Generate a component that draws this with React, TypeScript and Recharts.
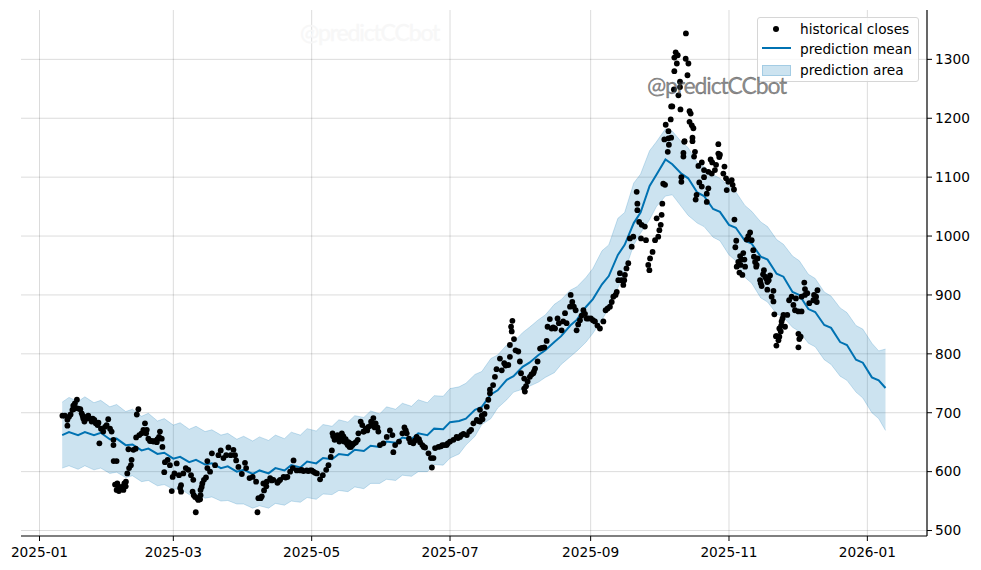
import { Area, CartesianGrid, ComposedChart, Line, Scatter, XAxis, YAxis } from "recharts";

const X_TICKS = [0, 59, 120, 181, 243, 304, 365];
const X_LABELS = ["2025-01", "2025-03", "2025-05", "2025-07", "2025-09", "2025-11", "2026-01"];
const Y_TICKS = [500, 600, 700, 800, 900, 1000, 1100, 1200, 1300];

// days since 2025-01-01
const FORECAST_DAYS = [
  10, 13, 17, 20, 24, 27, 31, 34, 38, 41,
  45, 48, 52, 55, 59, 62, 66, 69, 73, 76,
  80, 83, 87, 90, 94, 97, 101, 104, 108, 111,
  115, 118, 122, 125, 129, 132, 136, 139, 143, 146,
  150, 153, 157, 160, 164, 167, 171, 174, 178, 181,
  185, 188, 192, 195, 199, 202, 206, 209, 213, 216,
  220, 223, 227, 230, 234, 237, 241, 244, 248, 251,
  255, 258, 262, 265, 269, 272, 276, 279, 283, 286,
  290, 293, 297, 300, 304, 307, 311, 314, 318, 321,
  325, 328, 332, 335, 339, 342, 346, 349, 353, 356,
  360, 363, 367, 370, 373,
];
const MEAN = [
  662, 667, 662, 667, 662, 666, 655, 656, 645, 646,
  636, 639, 630, 632, 622, 625, 616, 620, 612, 614,
  606, 609, 600, 603, 596, 602, 597, 606, 602, 611,
  607, 617, 614, 623, 621, 630, 628, 637, 635, 644,
  642, 651, 649, 658, 655, 665, 662, 673, 672, 684,
  686, 690, 705, 710, 731, 738, 756, 762, 778, 785,
  798, 806, 820, 830, 848, 858, 880, 893, 918, 932,
  968, 985, 1022, 1040, 1085, 1104, 1130, 1122, 1106, 1098,
  1074, 1068, 1046, 1041, 1019, 1014, 992, 987, 965, 960,
  936, 931, 905, 900, 876, 871, 849, 844, 820, 815,
  790, 785, 760, 755, 742,
];
const UPPER = [
  718, 726, 719, 727, 717, 721, 710, 714, 702, 706,
  694, 699, 686, 690, 679, 683, 672, 677, 668, 671,
  662, 665, 655, 660, 652, 659, 653, 662, 656, 667,
  662, 673, 669, 680, 677, 688, 684, 695, 692, 703,
  698, 710, 706, 716, 711, 722, 717, 729, 728, 741,
  744, 750, 765, 770, 792, 798, 815, 820, 836, 845,
  858, 866, 884, 892, 908, 914, 930, 945, 975, 985,
  1030, 1040, 1090, 1105, 1145, 1160, 1182, 1178, 1160, 1150,
  1125, 1118, 1104, 1098, 1084, 1075, 1052, 1042, 1024, 1016,
  994, 986, 966, 958, 935, 928, 905, 898, 878, 870,
  848, 842, 818, 805, 808,
];
const LOWER = [
  606, 610, 604, 610, 603, 606, 597, 599, 590, 593,
  583, 585, 576, 578, 570, 571, 561, 563, 555, 557,
  550, 551, 545, 545, 538, 542, 538, 546, 543, 550,
  548, 556, 553, 562, 561, 568, 566, 574, 571, 580,
  580, 587, 585, 594, 592, 600, 600, 612, 611, 623,
  630, 645, 660, 680, 690, 708, 722, 735, 740, 745,
  752, 760, 768, 782, 795, 805, 820, 835, 858, 878,
  912, 940, 985, 1005, 1028, 1050, 1068, 1070, 1050, 1035,
  1022, 1016, 998, 992, 968, 958, 930, 920, 895, 888,
  868, 862, 845, 838, 818, 812, 790, 782, 762, 755,
  735, 725, 700, 690, 670,
];

// [day, close]
const CLOSES_JAN = [
  [10.1, 695], [11.2, 695], [12.3, 688], [12.3, 678], [13, 693], [13.7, 697], [14.5, 705], [14.9, 712],
  [15.6, 716], [16.5, 722], [17.1, 707], [18, 706], [18.6, 699], [19.3, 690], [19.8, 685], [20.8, 693],
  [21.5, 695], [22.3, 690], [23, 685], [24.2, 688], [24.8, 682], [25.6, 679], [26.4, 648], [27.1, 673],
  [28.1, 668], [28.9, 676], [29.6, 679], [30.3, 689], [19, 695], [21, 690], [23.5, 690], [26, 683],
  [16, 708], [15, 706],
];
const CLOSES_FEB = [
  [31.1, 673], [31.8, 668], [32.6, 654], [32.6, 645], [32.7, 618], [34, 618], [33.3, 578], [34.3, 580],
  [34, 569], [35, 567], [36, 574], [37, 569], [37.4, 580], [38.1, 583], [38.7, 597], [39.5, 606],
  [40.3, 611], [40.6, 620], [39.2, 638], [41.4, 637], [42.4, 639], [42.6, 658], [42.9, 697], [43.6, 706],
  [44, 662], [45, 665], [45.8, 671], [46.5, 682], [47.3, 671], [48, 656], [48.7, 652], [50.2, 651],
  [51.7, 650], [52.7, 659], [53.1, 668], [53.9, 656], [54.2, 642], [55.3, 616], [55, 599], [56.5, 620],
  [57.5, 611], [58.7, 591], [34.8, 572], [35.6, 570], [36.6, 572], [38, 575], [47, 665], [49.5, 652],
  [51, 652], [52, 655],
];
const CLOSES_MAR = [
  [59.5, 597], [60.5, 614], [61.5, 594], [62.4, 577], [63.4, 597], [64.5, 606], [65.6, 603], [66.8, 594],
  [67.8, 586], [62.4, 566], [58.3, 567], [67.5, 566], [68.6, 557], [70, 552], [68.9, 531], [71, 569],
  [71.8, 580], [70.8, 553], [71.5, 574], [72.5, 586], [73.4, 590], [74, 606], [74, 618], [75.2, 600],
  [76, 631], [77.4, 611], [78.9, 628], [79.9, 636], [81.1, 623], [82.3, 628], [83.3, 641], [84.3, 628],
  [85.5, 637], [86.2, 628], [86.7, 619], [87.7, 608], [89.2, 596], [62, 572], [68, 560], [69.5, 555],
  [71, 560],
];
const CLOSES_APR = [
  [90.6, 615], [91.1, 606], [92.6, 589], [94, 591], [95.5, 583], [96.1, 531], [96.5, 555], [98, 558],
  [99, 568], [98.7, 580], [100.2, 583], [101.7, 589], [103.1, 586], [104.9, 581], [106.1, 586], [107.6, 591],
  [109.3, 591], [110.5, 600], [111.7, 606], [112, 619], [113.4, 602], [114.9, 602], [116.4, 601], [117.8, 602],
  [119.3, 602], [97.5, 555], [100, 575], [102.4, 585], [105.5, 584], [108.5, 590], [115.6, 603], [118.5, 601],
];
const CLOSES_MAY = [
  [120.8, 600], [122.3, 597], [123.7, 587], [124.9, 594], [126.4, 603], [127.4, 611], [128.4, 625], [128.9, 636],
  [129.2, 665], [130.1, 654], [131.4, 662], [133.3, 665], [132.2, 651], [134.3, 651], [135.5, 648], [136.7, 642],
  [134.7, 654], [135.9, 645], [137.3, 642], [138.8, 648], [140.3, 654], [140.6, 665], [141.6, 685], [142.3, 679],
  [142.8, 668], [143.8, 673], [145, 676], [146.2, 685], [147.2, 691], [148.2, 682], [149.4, 668], [120, 602],
  [121.5, 598], [129.5, 660], [130.6, 660], [131.9, 655], [133, 658], [134, 660], [135, 655], [136.2, 650],
  [137, 648], [138, 645], [139.5, 650], [143, 668], [144.5, 670], [146, 678], [147.8, 675], [149, 675],
];
const CLOSES_JUN = [
  [150.1, 645], [151.6, 648], [153.1, 659], [154.5, 670], [155.6, 662], [156, 633], [156.8, 645], [158.5, 651],
  [160, 665], [160.9, 675], [161.9, 665], [162.9, 656], [164.8, 648], [166.3, 659], [167.3, 655], [168.8, 645],
  [170, 641], [171.5, 631], [172.6, 623], [173.7, 623], [173, 607], [174.4, 640], [175.9, 642], [177.6, 645],
  [179.5, 645], [161.5, 670], [163.5, 650], [165.5, 653], [167.8, 650], [169.4, 642], [177, 643], [178.5, 645],
  [180, 648],
];
const CLOSES_JUL = [
  [181, 651], [182.5, 654], [183.9, 659], [185.4, 659], [186.9, 664], [188.4, 662], [190.3, 671], [191.3, 682],
  [192.8, 688], [194.2, 685], [195.3, 689], [194.2, 705], [196.2, 698], [197.2, 710], [197.9, 722], [198.6, 733],
  [198.6, 739], [200, 747], [200.8, 761], [201.5, 774], [203, 792], [203.8, 772], [204.9, 784], [206.7, 781],
  [207.4, 795], [207.4, 815], [209.2, 825], [208.2, 838], [207.9, 846], [208.5, 856], [209.9, 806], [211.1, 804],
  [184.5, 657], [186, 662], [189.5, 668], [193.5, 686], [195, 695], [205.5, 780],
];
const CLOSES_AUG = [
  [211.8, 787], [212.3, 767], [213.7, 758], [213.7, 741], [214, 736], [215.2, 753], [216.2, 761], [217.7, 767],
  [218.5, 775], [219.6, 787], [220.7, 809], [222.6, 811], [223.6, 822], [224, 846], [225, 859], [225.8, 843],
  [227.3, 843], [228.4, 860], [229, 852], [230.2, 840], [231.7, 869], [232.4, 852], [233.9, 880], [234.2, 900],
  [234.9, 888], [236.4, 874], [236.8, 840], [238.3, 857], [239.8, 874], [241.2, 860], [214.5, 745], [216.9, 765],
  [218, 770], [221.5, 810], [226.5, 845], [230.9, 855], [235.6, 880], [237.5, 850], [239, 865], [240.5, 868],
  [242, 860],
];
const CLOSES_SEP = [
  [243.1, 860], [244.9, 855], [247.1, 843], [248.6, 855], [249.6, 874], [251.5, 880], [253, 897], [254.5, 905],
  [255.2, 925], [255.9, 937], [257.4, 917], [258.1, 934], [259.6, 954], [261.1, 982], [260.3, 996], [261.8, 999],
  [263.3, 1075], [263.6, 1055], [263.6, 1044], [264.4, 1024], [265.5, 1019], [265.2, 996], [266.9, 1016], [267.4, 993],
  [268.4, 951], [268.9, 942], [269.2, 962], [270.3, 973], [271.4, 993], [272.1, 1030], [272.8, 999], [273.3, 1010],
  [244, 857], [246, 848], [250.5, 877], [252.3, 888], [254, 900], [256.6, 925], [257.8, 925], [258.8, 945],
];
const CLOSES_OCT = [
  [273.9, 1019], [274.3, 1036], [274.6, 1055], [275, 1089], [275.8, 1087], [275.5, 1164], [277.3, 1166], [278.5, 1167],
  [277.3, 1178], [276.1, 1189], [278.3, 1198], [279, 1220], [278.5, 1220], [282.6, 1215], [281.7, 1239], [279.7, 1249],
  [282.4, 1253], [282.4, 1262], [279.9, 1280], [281, 1293], [279.9, 1303], [280.5, 1312], [281.4, 1307], [285, 1344],
  [284.9, 1301], [286.1, 1293], [285.7, 1273], [286.6, 1212], [287.1, 1208], [286.6, 1194], [287.6, 1188], [288.3, 1183],
  [287.9, 1167], [287.9, 1161], [284.4, 1161], [277, 1143], [277.5, 1155], [283, 1092], [283, 1100], [284.3, 1160],
  [283.9, 1141], [283.9, 1135], [289, 1143], [288.6, 1135], [289.7, 1070], [289.3, 1062], [290.5, 1119], [290.9, 1091],
  [292, 1084], [292, 1125], [293, 1112], [293, 1100], [294.2, 1072], [294.2, 1058], [294.9, 1081], [295.9, 1130],
  [296.6, 1125], [294.9, 1109], [296.4, 1106], [297.8, 1112], [298.3, 1121], [299.3, 1156], [299.3, 1140], [300, 1138],
  [299.7, 1134], [302, 1118], [301.5, 1106], [302.7, 1098], [303.7, 1092],
];
const CLOSES_NOV = [
  [305.2, 1095], [303, 1078], [305.6, 1087], [306.2, 1079], [306.4, 1028], [307.2, 992], [306.8, 981], [307.4, 948],
  [308.1, 956], [308.9, 966], [310.3, 971], [309.1, 951], [308.6, 938], [309.9, 934], [311.1, 948], [311.8, 994],
  [313.3, 1006], [314, 993], [314.7, 976], [315.5, 956], [316.2, 951], [316.6, 962], [317.7, 925], [318.4, 915],
  [319.4, 942], [319.9, 931], [320.9, 922], [322.1, 933], [320.9, 909], [323.6, 907], [322.8, 897], [323.6, 889],
  [324, 867], [328, 866], [329.7, 866], [327.2, 855], [328.7, 846], [326.2, 843], [326.8, 838], [324.7, 830],
  [326.2, 829], [325.8, 823], [324.9, 814], [330.5, 891], [331.6, 897], [332.4, 883], [309.5, 960], [310.8, 960],
  [312.5, 1000], [315, 965], [316, 948], [318, 920], [319, 935], [320.4, 928], [321.5, 925], [325.2, 830],
  [327, 848], [327.6, 860],
];
const CLOSES_DEC = [
  [333.1, 874], [334.6, 872], [336, 872], [333.5, 894], [336, 897], [337.5, 900], [337.2, 921], [337.5, 910],
  [338.5, 903], [339.4, 886], [341.2, 891], [342.7, 888], [341.5, 900], [343, 908], [342.4, 897], [334.6, 834],
  [335.6, 829], [335, 825], [334.6, 811],
];

const forecast = FORECAST_DAYS.map((day, i) => ({ day, mean: MEAN[i], band: [LOWER[i], UPPER[i]] }));
const closes = [
  ...CLOSES_JAN, ...CLOSES_FEB, ...CLOSES_MAR, ...CLOSES_APR, ...CLOSES_MAY, ...CLOSES_JUN,
  ...CLOSES_JUL, ...CLOSES_AUG, ...CLOSES_SEP, ...CLOSES_OCT, ...CLOSES_NOV, ...CLOSES_DEC,
].map(([day, close]) => ({ day, close }));

const BLUE = "#0072B2";
const FONT = "'DejaVu Sans', sans-serif";
const tick = { fill: "#000", fontSize: 13.7, fontFamily: FONT };
const tickLine = { stroke: "#000", strokeWidth: 1 };
const axisLine = { stroke: "#000", strokeWidth: 1.2 };

const Dot = (p: { cx?: number; cy?: number }) => <circle cx={p.cx} cy={p.cy} r={2.9} fill="#000" />;

function LegendBox() {
  const row = { position: "absolute", left: 42, fontSize: 13.7, lineHeight: "16px", whiteSpace: "nowrap" } as const;
  return (
    <div
      style={{
        position: "absolute",
        left: 757,
        top: 17,
        width: 162,
        height: 65,
        boxSizing: "border-box",
        border: "1px solid #d6d6d6",
        borderRadius: 3,
        background: "rgba(255,255,255,0.8)",
        fontFamily: FONT,
        color: "#000",
      }}
    >
      <div style={{ position: "absolute", left: 15, top: 8, width: 6, height: 6, borderRadius: 3, background: "#000" }} />
      <div style={{ ...row, top: 3 }}>historical closes</div>
      <div style={{ position: "absolute", left: 4, top: 29, width: 29, height: 2, background: BLUE }} />
      <div style={{ ...row, top: 23 }}>prediction mean</div>
      <div
        style={{
          position: "absolute",
          left: 4,
          top: 47,
          width: 29,
          height: 11,
          boxSizing: "border-box",
          background: "rgba(0,114,178,0.2)",
          border: "1px solid rgba(0,114,178,0.2)",
        }}
      />
      <div style={{ ...row, top: 44 }}>prediction area</div>
    </div>
  );
}

function Watermark({ left, top, color }: { left: number; top: number; color: string }) {
  return (
    <div
      style={{
        position: "absolute",
        left,
        top,
        fontFamily: "Lato, sans-serif",
        fontSize: 23,
        letterSpacing: -1.15,
        lineHeight: "28px",
        color,
        WebkitTextStroke: `0.3px ${color}`,
        whiteSpace: "nowrap",
      }}
    >
      @predictCCbot
    </div>
  );
}

export default function App() {
  return (
    <div style={{ position: "absolute", left: 0, top: 0, width: 981, height: 570, background: "#fff" }}>
      <ComposedChart width={981} height={570} data={forecast} margin={{ top: 10, right: 0, bottom: 0, left: 21 }}>
        <CartesianGrid stroke="#000" strokeOpacity={0.14} horizontalValues={Y_TICKS} verticalValues={X_TICKS} />
        <XAxis
          dataKey="day"
          type="number"
          domain={[-8.16, 391.3]}
          ticks={X_TICKS}
          tickFormatter={(v: number) => X_LABELS[X_TICKS.indexOf(v)]}
          interval={0}
          height={34}
          tick={tick}
          tickLine={tickLine}
          axisLine={axisLine}
          tickSize={5}
          tickMargin={6}
        />
        <YAxis
          orientation="right"
          type="number"
          domain={[490.7, 1383.8]}
          ticks={Y_TICKS}
          interval={0}
          width={54}
          tick={tick}
          tickLine={tickLine}
          axisLine={axisLine}
          tickSize={5}
          tickMargin={3}
        />
        <Area
          dataKey="band"
          type="linear"
          fill={BLUE}
          fillOpacity={0.2}
          stroke={BLUE}
          strokeOpacity={0.2}
          strokeWidth={1}
          dot={false}
          activeDot={false}
          isAnimationActive={false}
        />
        <Scatter data={closes} dataKey="close" shape={Dot} isAnimationActive={false} />
        <Line dataKey="mean" type="linear" stroke={BLUE} strokeWidth={2} dot={false} activeDot={false} isAnimationActive={false} />
      </ComposedChart>
      <Watermark left={300} top={18} color="#f7f7f7" />
      <LegendBox />
      <Watermark left={647} top={71} color="rgba(70,70,70,0.65)" />
    </div>
  );
}
